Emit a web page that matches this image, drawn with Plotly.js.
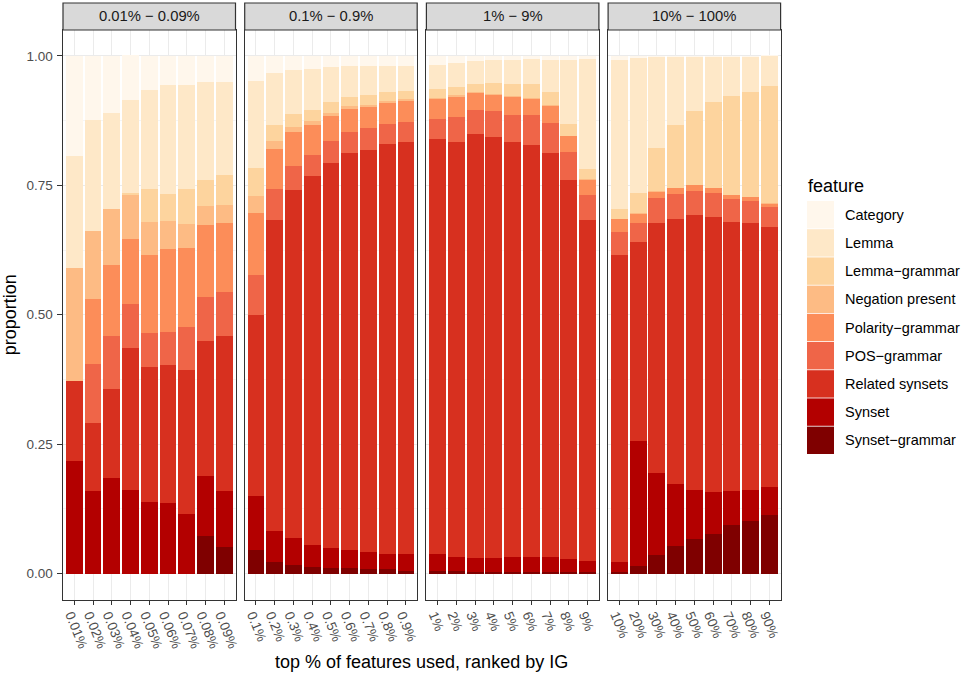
<!DOCTYPE html>
<html>
<head>
<meta charset="utf-8">
<script src="https://cdn.plot.ly/plotly-3.0.1.min.js"></script>
<style>html,body{margin:0;padding:0;background:#fff}#chart{width:967px;height:674px}</style>
</head>
<body>
<div id="chart"></div>
<script>
// ---- data ----
const panelLabels = ["0.01% \u2212 0.09%", "0.1% \u2212 0.9%", "1% \u2212 9%", "10% \u2212 100%"];
const ticks1 = ["0.01%","0.02%","0.03%","0.04%","0.05%","0.06%","0.07%","0.08%","0.09%"];
const ticks2 = ["0.1%","0.2%","0.3%","0.4%","0.5%","0.6%","0.7%","0.8%","0.9%"];
const ticks3 = ["1%","2%","3%","4%","5%","6%","7%","8%","9%"];
const ticks4 = ["10%","20%","30%","40%","50%","60%","70%","80%","90%"];
const featureNames = ["Category","Lemma","Lemma\u2212grammar","Negation present","Polarity\u2212grammar","POS\u2212grammar","Related synsets","Synset","Synset\u2212grammar"];
const featureColors = ["#FFF7EC","#FEE8C8","#FDD49E","#FDBB84","#FC8D59","#EF6548","#D7301F","#B30000","#7F0000"];

// values: 9 bars per panel, panels concatenated in order
const synsetGrammar = [
  0,0,0,0,0,0,0,0.073,0.052,
  0.046,0.023,0.017,0.012,0.010,0.010,0.008,0.008,0.006,
  0.006,0.006,0.004,0.004,0.004,0.004,0.004,0.004,0.004,
  0.004,0.015,0.035,0.054,0.066,0.077,0.093,0.102,0.114];
const synset = [
  0.218,0.160,0.185,0.162,0.139,0.137,0.116,0.116,0.108,
  0.103,0.060,0.051,0.044,0.040,0.036,0.034,0.029,0.031,
  0.031,0.027,0.027,0.027,0.029,0.029,0.029,0.025,0.021,
  0.019,0.242,0.160,0.120,0.096,0.081,0.067,0.060,0.054];
const relatedSynsets = [
  0.155,0.130,0.172,0.274,0.261,0.265,0.278,0.261,0.299,
  0.351,0.600,0.673,0.712,0.743,0.767,0.777,0.793,0.797,
  0.803,0.801,0.818,0.813,0.801,0.795,0.780,0.732,0.658,
  0.593,0.384,0.483,0.511,0.531,0.531,0.520,0.516,0.502];
const posGrammar = [
  0,0.115,0.102,0.085,0.065,0.065,0.083,0.085,0.085,
  0.077,0.060,0.047,0.041,0.043,0.040,0.042,0.039,0.039,
  0.038,0.048,0.047,0.050,0.052,0.058,0.058,0.054,0.049,
  0.044,0.037,0.048,0.049,0.046,0.047,0.044,0.042,0.038];
const polarityGrammar = [
  0,0.126,0.138,0.126,0.151,0.160,0.152,0.139,0.134,
  0.120,0.077,0.065,0.058,0.048,0.045,0.041,0.040,0.040,
  0.039,0.039,0.033,0.031,0.035,0.031,0.033,0.030,0.029,
  0.024,0.017,0.011,0.010,0.011,0.008,0.007,0.007,0.006];
const negationPresent = [
  0.218,0.131,0.108,0.085,0.064,0.054,0.047,0.036,0.034,
  0.033,0.016,0.010,0.008,0.006,0.005,0.003,0.004,0.004,
  0.002,0.004,0.002,0.002,0.001,0.002,0.001,0.001,0.002,
  0.001,0.002,0.002,0.001,0.001,0.001,0.001,0.001,0.002];
const lemmaGrammar = [
  0,0,0,0.004,0.063,0.053,0.067,0.051,0.058,
  0.054,0.031,0.025,0.021,0.021,0.018,0.020,0.018,0.015,
  0.017,0.015,0.015,0.021,0.024,0.027,0.025,0.022,0.019,
  0.019,0.039,0.083,0.121,0.143,0.165,0.191,0.203,0.226];
const lemma = [
  0.215,0.214,0.185,0.179,0.191,0.210,0.201,0.189,0.180,
  0.168,0.100,0.085,0.079,0.068,0.060,0.056,0.050,0.049,
  0.047,0.046,0.044,0.044,0.046,0.048,0.063,0.125,0.212,
  0.289,0.260,0.176,0.131,0.104,0.087,0.075,0.066,0.058];
const category = [
  0.194,0.124,0.110,0.087,0.066,0.056,0.056,0.050,0.050,
  0.048,0.033,0.027,0.025,0.021,0.019,0.019,0.019,0.019,
  0.017,0.014,0.010,0.008,0.008,0.006,0.006,0.006,0.006,
  0.006,0.004,0.002,0.002,0.002,0.002,0.002,0.002,0.002];

// ---- build ----
const tickSets = [ticks1, ticks2, ticks3, ticks4];
const valueSets = [category, lemma, lemmaGrammar, negationPresent, polarityGrammar, posGrammar, relatedSynsets, synset, synsetGrammar];
const W = 967, H = 674;
const fx = p => p / W, fy = p => 1 - p / H;
const panelPx = [[63,235.5],[244.7,417.2],[426.4,598.9],[608.1,780.6]];
const plotTop = 30, plotBottom = 599.5, stripTop = 3;
const fontFam = "Liberation Sans, Arial, Helvetica, sans-serif";

const traces = [];
const layout = {
  width: W, height: H,
  margin: {l:0, r:0, t:0, b:0},
  paper_bgcolor: "#FFFFFF", plot_bgcolor: "#FFFFFF",
  barmode: "stack",
  showlegend: false,
  font: {family: fontFam, color: "#000000"},
  shapes: [], annotations: []
};

panelPx.forEach((p, i) => {
  const ax = i === 0 ? "" : String(i + 1);
  // stack bottom -> top: Synset-grammar first
  for (let k = featureNames.length - 1; k >= 0; k--) {
    traces.push({
      type: "bar",
      x: tickSets[i],
      y: valueSets[k].slice(i * 9, i * 9 + 9),
      name: featureNames[k],
      marker: {color: featureColors[k], line: {width: 0}},
      width: 0.9,
      xaxis: "x" + ax, yaxis: "y" + ax,
      showlegend: false
    });
  }
  layout["xaxis" + ax] = {
    domain: [fx(p[0]), fx(p[1])], anchor: "y" + ax,
    type: "category", categoryorder: "array", categoryarray: tickSets[i],
    range: [-0.6, 8.6], fixedrange: true,
    showgrid: true, gridcolor: "#EBEBEB", gridwidth: 1,
    showline: true, mirror: true, linecolor: "#333333", linewidth: 1.2,
    ticks: "outside", ticklen: 4.4, tickcolor: "#333333", tickwidth: 1,
    tickangle: 68, ticklabelstandoff: -3, ticklabelshift: -3,
    tickfont: {size: 13.5, color: "#4D4D4D", family: fontFam},
    zeroline: false, automargin: false
  };
  layout["yaxis" + ax] = {
    domain: [fy(plotBottom), fy(plotTop)], anchor: "x" + ax,
    range: [-0.05, 1.05], fixedrange: true,
    tick0: 0, dtick: 0.25, tickformat: ".2f",
    showgrid: true, gridcolor: "#EBEBEB", gridwidth: 1,
    minor: {dtick: 0.125, showgrid: true, gridcolor: "#EBEBEB", gridwidth: 0.5, ticks: ""},
    showline: true, mirror: true, linecolor: "#333333", linewidth: 1.2,
    ticks: i === 0 ? "outside" : "", ticklen: 4.4, tickcolor: "#333333", tickwidth: 1,
    showticklabels: i === 0, ticklabelstandoff: 2,
    tickfont: {size: 13.5, color: "#4D4D4D", family: fontFam},
    zeroline: false, automargin: false
  };
  if (i === 0) {
    layout.yaxis.title = {text: "proportion", font: {size: 18, color: "#000000", family: fontFam}, standoff: 8};
  }
  // facet strip
  layout.shapes.push({
    type: "rect", xref: "paper", yref: "paper",
    x0: fx(p[0]), x1: fx(p[1]), y0: fy(plotTop), y1: fy(stripTop),
    fillcolor: "#D9D9D9", line: {color: "#333333", width: 1.2}, layer: "above"
  });
  layout.annotations.push({
    xref: "paper", yref: "paper", x: fx((p[0] + p[1]) / 2), y: fy((plotTop + stripTop) / 2),
    xanchor: "center", yanchor: "middle", showarrow: false,
    text: panelLabels[i], font: {size: 14.8, color: "#1A1A1A", family: fontFam}
  });
});

// x axis title across facets
layout.annotations.push({
  xref: "paper", yref: "paper", x: fx((panelPx[0][0] + panelPx[3][1]) / 2), y: fy(662),
  xanchor: "center", yanchor: "middle", showarrow: false,
  text: "top % of features used, ranked by IG", font: {size: 18, color: "#000000", family: fontFam}
});

// legend (ggplot style keys)
layout.annotations.push({
  xref: "paper", yref: "paper", x: fx(806), y: fy(186),
  xanchor: "left", yanchor: "middle", showarrow: false,
  text: "feature", font: {size: 18, color: "#000000", family: fontFam}
});
const keyTop = 201, keyPitch = 28.2, keyH = 27.4;
featureNames.forEach((nm, k) => {
  const y0 = keyTop + k * keyPitch;
  layout.shapes.push({
    type: "rect", xref: "paper", yref: "paper",
    x0: fx(807), x1: fx(834), y0: fy(y0 + keyH), y1: fy(y0),
    fillcolor: featureColors[k], line: {width: 0}
  });
  layout.annotations.push({
    xref: "paper", yref: "paper", x: fx(843), y: fy(y0 + keyH / 2),
    xanchor: "left", yanchor: "middle", showarrow: false,
    text: nm, font: {size: 14.5, color: "#000000", family: fontFam}
  });
});

Plotly.newPlot("chart", traces, layout, {displayModeBar: false, staticPlot: true});
</script>
</body>
</html>
